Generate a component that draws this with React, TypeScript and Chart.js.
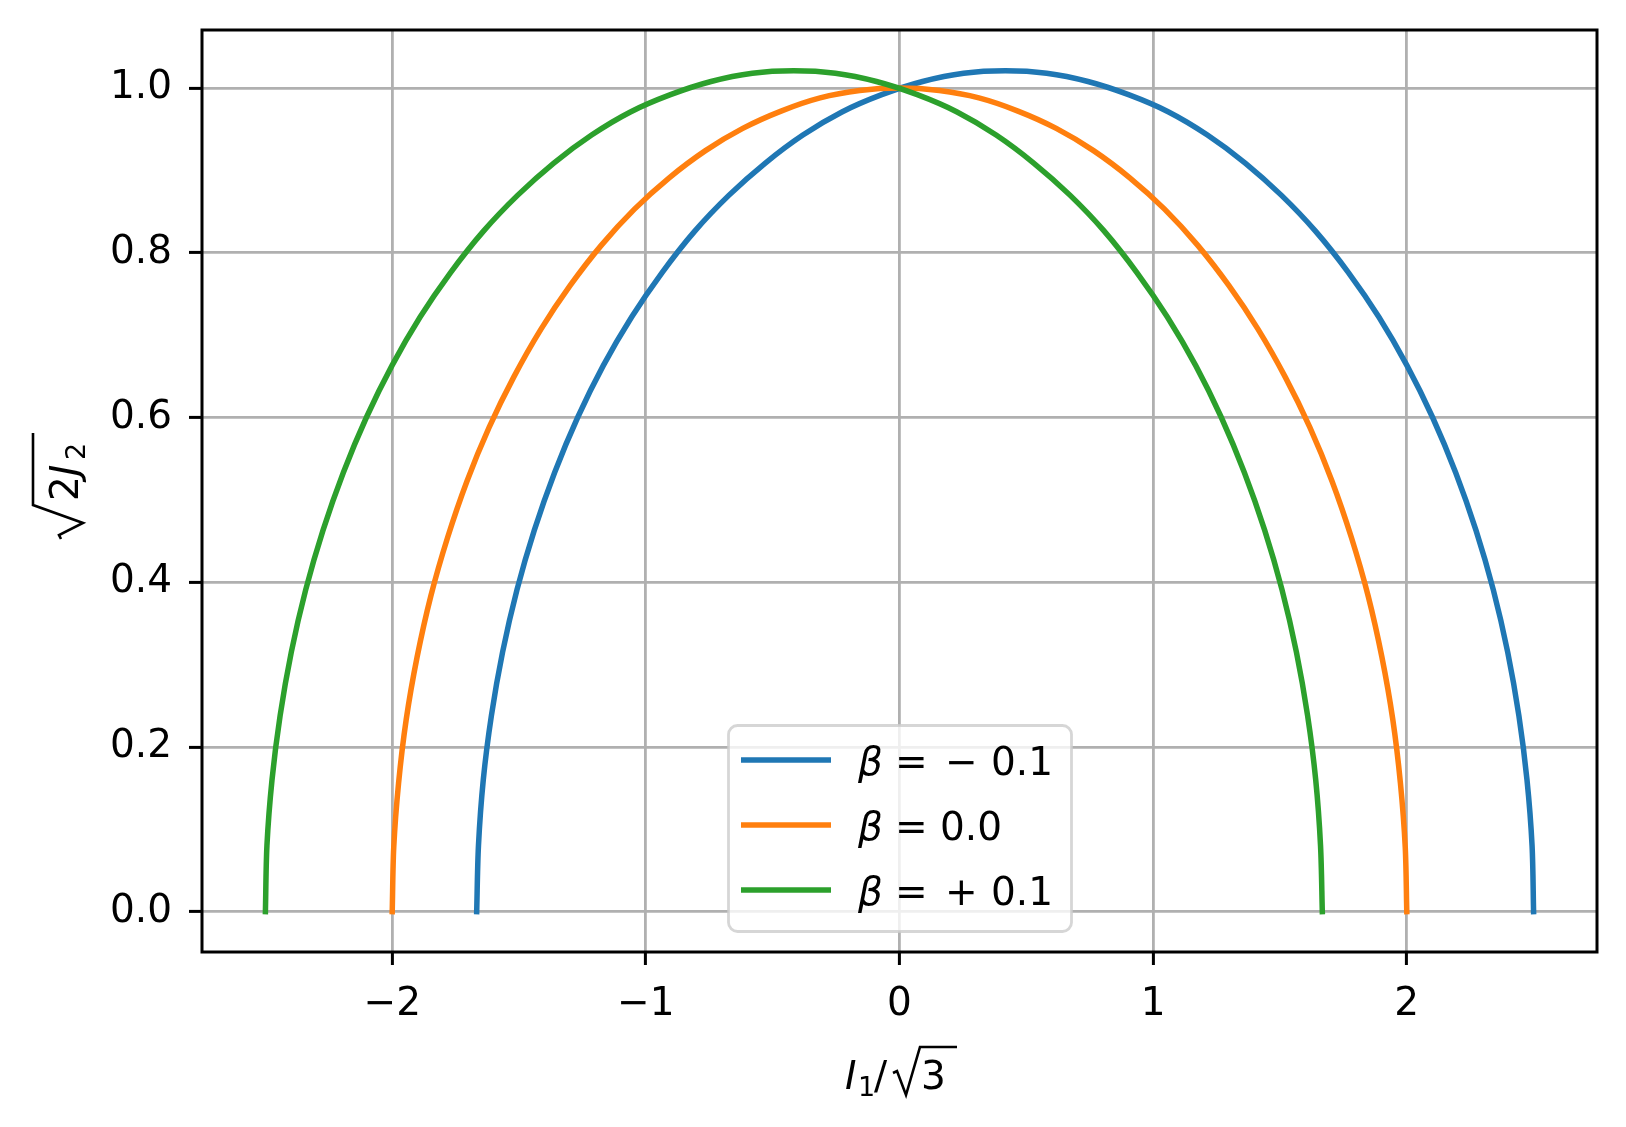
import React, { useEffect, useRef } from "react";
import { Chart, registerables } from "chart.js";

Chart.register(...registerables);

const W = 1626;
const H = 1127;

// beta = -0.1
const xBlue = [2.500, 2.494, 2.474, 2.442, 2.398, 2.341, 2.273, 2.193, 2.102, 2.001, 1.890, 1.770, 1.641, 1.505, 1.363, 1.214, 1.061, 0.903, 0.743, 0.580, 0.417, 0.253, 0.091, -0.070, -0.227, -0.381, -0.529, -0.672, -0.808, -0.936, -1.056, -1.168, -1.269, -1.360, -1.440, -1.508, -1.565, -1.609, -1.641, -1.660, -1.667];
const yBlue = [0.000, 0.080, 0.160, 0.238, 0.315, 0.391, 0.463, 0.533, 0.600, 0.663, 0.722, 0.776, 0.826, 0.870, 0.909, 0.943, 0.971, 0.992, 1.008, 1.018, 1.021, 1.018, 1.008, 0.992, 0.971, 0.943, 0.909, 0.870, 0.826, 0.776, 0.722, 0.663, 0.600, 0.533, 0.463, 0.391, 0.315, 0.238, 0.160, 0.080, 0.000];

// beta = 0.0
const xOrange = [2.000, 1.994, 1.975, 1.945, 1.902, 1.848, 1.782, 1.705, 1.618, 1.521, 1.414, 1.299, 1.176, 1.045, 0.908, 0.765, 0.618, 0.467, 0.313, 0.157, 0.000, -0.157, -0.313, -0.467, -0.618, -0.765, -0.908, -1.045, -1.176, -1.299, -1.414, -1.521, -1.618, -1.705, -1.782, -1.848, -1.902, -1.945, -1.975, -1.994, -2.000];
const yOrange = [0.000, 0.078, 0.156, 0.233, 0.309, 0.383, 0.454, 0.523, 0.588, 0.649, 0.707, 0.760, 0.809, 0.853, 0.891, 0.924, 0.951, 0.972, 0.988, 0.997, 1.000, 0.997, 0.988, 0.972, 0.951, 0.924, 0.891, 0.853, 0.809, 0.760, 0.707, 0.649, 0.588, 0.523, 0.454, 0.383, 0.309, 0.233, 0.156, 0.078, 0.000];

// beta = +0.1
const xGreen = [-2.500, -2.494, -2.474, -2.442, -2.398, -2.341, -2.273, -2.193, -2.102, -2.001, -1.890, -1.770, -1.641, -1.505, -1.363, -1.214, -1.061, -0.903, -0.743, -0.580, -0.417, -0.253, -0.091, 0.070, 0.227, 0.381, 0.529, 0.672, 0.808, 0.936, 1.056, 1.168, 1.269, 1.360, 1.440, 1.508, 1.565, 1.609, 1.641, 1.660, 1.667];
const yGreen = [0.000, 0.080, 0.160, 0.238, 0.315, 0.391, 0.463, 0.533, 0.600, 0.663, 0.722, 0.776, 0.826, 0.870, 0.909, 0.943, 0.971, 0.992, 1.008, 1.018, 1.021, 1.018, 1.008, 0.992, 0.971, 0.943, 0.909, 0.870, 0.826, 0.776, 0.722, 0.663, 0.600, 0.533, 0.463, 0.391, 0.315, 0.238, 0.160, 0.080, 0.000];

const betaSigns = ["−", "", "+"];
const betaValues = ["0.1", "0.0", "0.1"];
const seriesColors = ["#1f77b4", "#ff7f0e", "#2ca02c"];

const xTicks = [-2, -1, 0, 1, 2];
const xTickLabels = ["−2", "−1", "0", "1", "2"];
const yTicks = [0, 0.2, 0.4, 0.6, 0.8, 1.0];
const yTickLabels = ["0.0", "0.2", "0.4", "0.6", "0.8", "1.0"];

const FONT = "'DejaVu Sans'";
const FS = 39;

function lookup(ticks: number[], labels: string[], v: number) {
  const i = ticks.findIndex((t) => Math.abs(t - v) < 1e-9);
  return i >= 0 ? labels[i] : "";
}

const decorPlugin = {
  id: "decor",
  beforeDraw(chart: any) {
    const ctx = chart.ctx;
    ctx.save();
    ctx.fillStyle = "#ffffff";
    ctx.fillRect(0, 0, chart.width, chart.height);
    ctx.restore();
  },
  afterDatasetsDraw(chart: any) {
    const { ctx, chartArea } = chart;
    ctx.save();
    ctx.strokeStyle = "#000000";
    ctx.lineWidth = 3;
    ctx.strokeRect(chartArea.left, chartArea.top, chartArea.right - chartArea.left, chartArea.bottom - chartArea.top);
    ctx.restore();
  },
  afterDraw(chart: any) {
    const { ctx, chartArea } = chart;
    // Legend
    ctx.save();
    const bx = 728.5, by = 725.5, bw = 343, bh = 206;
    ctx.beginPath();
    ctx.roundRect(bx, by, bw, bh, 9);
    ctx.fillStyle = "rgba(255,255,255,0.8)";
    ctx.fill();
    ctx.strokeStyle = "rgba(204,204,204,0.8)";
    ctx.lineWidth = 2.8;
    ctx.stroke();
    const rowY = [760, 825, 890];
    for (let i = 0; i < 3; i++) {
      const y = rowY[i];
      ctx.beginPath();
      ctx.moveTo(741, y);
      ctx.lineTo(831, y);
      ctx.strokeStyle = seriesColors[i];
      ctx.lineWidth = 5.5;
      ctx.lineCap = "butt";
      ctx.stroke();
      const base = y + 15;
      ctx.fillStyle = "#000000";
      ctx.textBaseline = "alphabetic";
      ctx.textAlign = "left";
      ctx.font = `italic ${FS}px ${FONT}`;
      ctx.fillText("β", 858, base);
      ctx.font = `${FS}px ${FONT}`;
      ctx.fillText("=", 895, base);
      if (betaSigns[i]) {
        ctx.fillText(betaSigns[i], 945, base);
        ctx.fillText(betaValues[i], 991, base);
      } else {
        ctx.fillText(betaValues[i], 940, base);
      }
    }
    ctx.restore();

    // X axis title: I_1 / sqrt(3)
    ctx.save();
    ctx.fillStyle = "#000000";
    ctx.strokeStyle = "#000000";
    ctx.textBaseline = "alphabetic";
    ctx.textAlign = "left";
    const xb = 1089;
    ctx.font = `italic ${FS}px ${FONT}`;
    ctx.fillText("I", 845, xb);
    ctx.font = `${Math.round(FS * 0.7)}px ${FONT}`;
    ctx.fillText("1", 858, xb + 7);
    ctx.font = `${FS}px ${FONT}`;
    ctx.fillText("/", 874, xb);
    ctx.fillText("3", 921, xb);
    ctx.lineWidth = 2.6;
    ctx.lineJoin = "miter";
    ctx.beginPath();
    ctx.moveTo(893, xb - 16);
    ctx.lineTo(897, xb - 18);
    ctx.lineTo(906, xb + 6);
    ctx.lineTo(920, xb - 42);
    ctx.lineTo(957, xb - 42);
    ctx.stroke();
    ctx.restore();

    // Y axis title: sqrt(2 J_2), rotated
    ctx.save();
    const cy = (chartArea.top + chartArea.bottom) / 2 - 4;
    ctx.translate(78, cy);
    ctx.rotate(-Math.PI / 2);
    ctx.fillStyle = "#000000";
    ctx.strokeStyle = "#000000";
    ctx.textBaseline = "alphabetic";
    ctx.textAlign = "left";
    ctx.lineWidth = 2.6;
    ctx.beginPath();
    ctx.moveTo(-52, -17);
    ctx.lineTo(-48, -19);
    ctx.lineTo(-36, 5);
    ctx.lineTo(-18, -45);
    ctx.lineTo(54, -45);
    ctx.stroke();
    ctx.font = `${FS}px ${FONT}`;
    ctx.fillText("2", -14, 0);
    ctx.font = `italic ${FS}px ${FONT}`;
    ctx.fillText("J", 11, 0);
    ctx.font = `${Math.round(FS * 0.7)}px ${FONT}`;
    ctx.fillText("2", 27, 7);
    ctx.restore();
  },
};

export default function App() {
  const ref = useRef<HTMLCanvasElement>(null);

  useEffect(() => {
    const canvas = ref.current;
    if (!canvas) return;
    const mk = (xs: number[], ys: number[]) => xs.map((x, i) => ({ x, y: ys[i] }));
    const chart = new Chart(canvas, {
      type: "scatter",
      data: {
        datasets: [
          { label: "β = −0.1", data: mk(xBlue, yBlue), borderColor: seriesColors[0], backgroundColor: seriesColors[0], order: 3 },
          { label: "β = 0.0", data: mk(xOrange, yOrange), borderColor: seriesColors[1], backgroundColor: seriesColors[1], order: 2 },
          { label: "β = +0.1", data: mk(xGreen, yGreen), borderColor: seriesColors[2], backgroundColor: seriesColors[2], order: 1 },
        ].map((d) => ({
          ...d,
          showLine: true,
          pointRadius: 0,
          pointHoverRadius: 0,
          borderWidth: 5.5,
          tension: 0.3,
          fill: false,
          borderCapStyle: "square" as const,
          borderJoinStyle: "round" as const,
        })),
      },
      plugins: [decorPlugin],
      options: {
        responsive: false,
        animation: false,
        devicePixelRatio: 1,
        events: [],
        layout: { padding: { top: 30, right: 29, bottom: 0, left: 0 } },
        plugins: {
          legend: { display: false },
          tooltip: { enabled: false },
          title: { display: false },
        },
        scales: {
          x: {
            type: "linear",
            min: -2.75,
            max: 2.75,
            afterBuildTicks: (s: any) => {
              s.ticks = xTicks.map((v) => ({ value: v }));
            },
            afterFit: (s: any) => {
              s.height = H - 952;
              s.paddingLeft = 0;
              s.paddingRight = 0;
              s.paddingTop = 0;
              s.paddingBottom = 0;
            },
            ticks: {
              autoSkip: false,
              maxRotation: 0,
              minRotation: 0,
              padding: 16,
              color: "#000000",
              font: { family: "DejaVu Sans", size: FS },
              callback: (v: any) => lookup(xTicks, xTickLabels, Number(v)),
            },
            grid: {
              color: "#b0b0b0",
              lineWidth: 2.8,
              drawTicks: true,
              tickLength: 13,
              tickColor: "#000000",
              tickWidth: 3,
            },
            border: { display: false },
          },
          y: {
            type: "linear",
            min: -0.049,
            max: 1.0705,
            afterBuildTicks: (s: any) => {
              s.ticks = yTicks.map((v) => ({ value: v }));
            },
            afterFit: (s: any) => {
              s.width = 202;
              s.paddingLeft = 0;
              s.paddingRight = 0;
              s.paddingTop = 0;
              s.paddingBottom = 0;
            },
            ticks: {
              autoSkip: false,
              padding: 17,
              color: "#000000",
              font: { family: "DejaVu Sans", size: FS },
              callback: (v: any) => lookup(yTicks, yTickLabels, Number(v)),
            },
            grid: {
              color: "#b0b0b0",
              lineWidth: 2.8,
              drawTicks: true,
              tickLength: 13,
              tickColor: "#000000",
              tickWidth: 3,
            },
            border: { display: false },
          },
        },
      } as any,
    });
    return () => chart.destroy();
  }, []);

  return (
    <div style={{ position: "fixed", left: 0, top: 0, width: W, height: H, background: "#ffffff" }}>
      <canvas ref={ref} width={W} height={H} style={{ width: W, height: H, display: "block" }} />
    </div>
  );
}
